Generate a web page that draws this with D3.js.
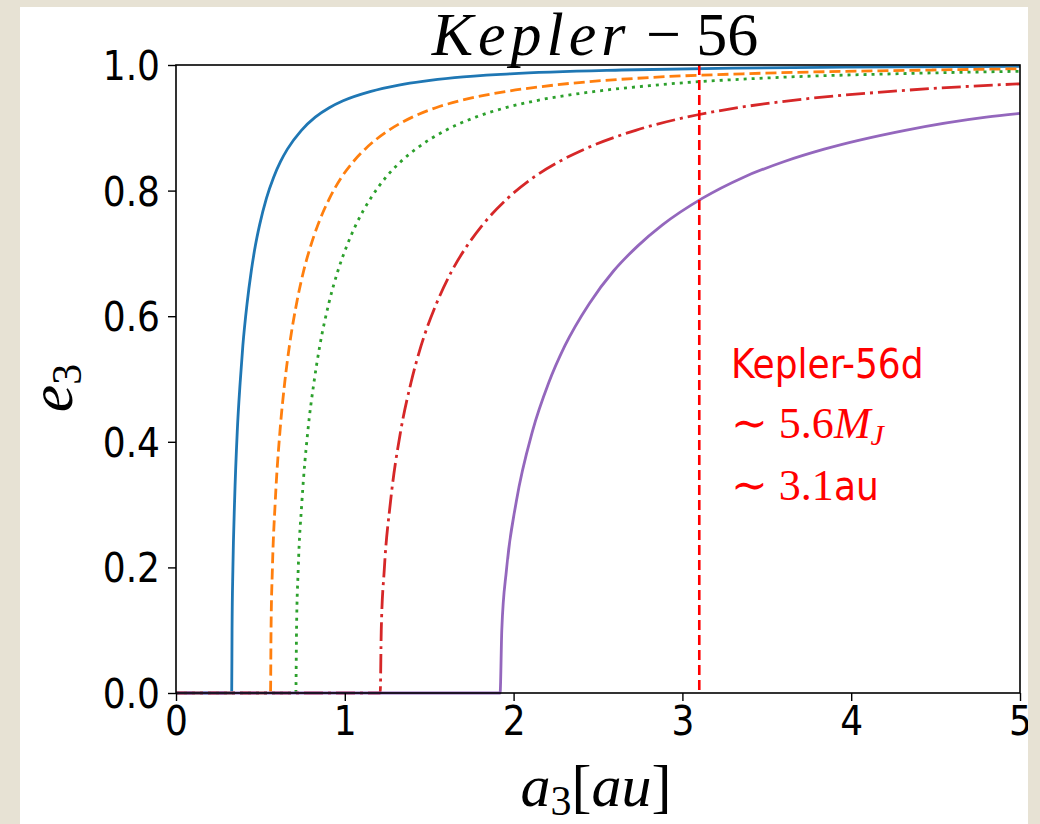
<!DOCTYPE html>
<html>
<head>
<meta charset="utf-8">
<script src="https://cdnjs.cloudflare.com/ajax/libs/d3/7.8.5/d3.min.js"></script>
<style>
  html, body { margin: 0; padding: 0; background: #e7e2d4; }
  svg { display: block; }
</style>
</head>
<body>
<svg id="chart" width="1040" height="824"></svg>
<script>
// Semi-major axis a3 [au] and eccentricity e3 for each curve
const blueA   = [0, 0.33, 0.332, 0.337, 0.347, 0.363, 0.380, 0.396, 0.421, 0.446, 0.470, 0.495, 0.536, 0.578, 0.619, 0.66, 0.743, 0.825, 0.908, 0.99, 1.155, 1.32, 1.65, 1.98, 2.64, 3.3, 3.96, 5.0];
const blueE   = [0, 0,    0.10,  0.197, 0.305, 0.417, 0.494, 0.553, 0.620, 0.672, 0.712, 0.745, 0.788, 0.821, 0.846, 0.866, 0.896, 0.917, 0.932, 0.943, 0.958, 0.968, 0.980, 0.986, 0.992, 0.995, 0.9965, 0.998];
const orangeA = [0, 0.56, 0.563, 0.571, 0.588, 0.616, 0.644, 0.672, 0.714, 0.756, 0.798, 0.84, 0.91, 0.98, 1.05, 1.12, 1.26, 1.4, 1.54, 1.68, 1.96, 2.24, 2.8, 3.36, 4.48, 5.0];
const orangeE = [0, 0,    0.10,  0.197, 0.305, 0.417, 0.494, 0.553, 0.620, 0.672, 0.712, 0.745, 0.788, 0.821, 0.846, 0.866, 0.896, 0.917, 0.932, 0.943, 0.958, 0.968, 0.980, 0.986, 0.992, 0.994];
const greenA  = [0, 0.71, 0.714, 0.724, 0.746, 0.781, 0.817, 0.852, 0.905, 0.959, 1.012, 1.065, 1.154, 1.243, 1.331, 1.42, 1.598, 1.775, 1.953, 2.13, 2.485, 2.84, 3.55, 4.26, 5.0];
const greenE  = [0, 0,    0.10,  0.197, 0.305, 0.417, 0.494, 0.553, 0.620, 0.672, 0.712, 0.745, 0.788, 0.821, 0.846, 0.866, 0.896, 0.917, 0.932, 0.943, 0.958, 0.968, 0.980, 0.986, 0.990];
const redA    = [0, 1.21, 1.216, 1.234, 1.271, 1.331, 1.392, 1.452, 1.543, 1.634, 1.724, 1.815, 1.966, 2.118, 2.269, 2.42, 2.723, 3.025, 3.328, 3.63, 4.235, 4.84, 5.0];
const redE    = [0, 0,    0.10,  0.197, 0.305, 0.417, 0.494, 0.553, 0.620, 0.672, 0.712, 0.745, 0.788, 0.821, 0.846, 0.866, 0.896, 0.917, 0.932, 0.943, 0.958, 0.968, 0.970];
const purpleA = [0, 1.92, 1.93, 1.958, 2.016, 2.112, 2.208, 2.304, 2.448, 2.592, 2.736, 2.88, 3.12, 3.36, 3.6, 3.84, 4.32, 4.8, 5.0];
const purpleE = [0, 0,    0.10, 0.197, 0.305, 0.417, 0.494, 0.553, 0.620, 0.672, 0.712, 0.745, 0.788, 0.821, 0.846, 0.866, 0.896, 0.917, 0.923];

const xTickValues = [0, 1, 2, 3, 4, 5];
const yTickValues = [0.0, 0.2, 0.4, 0.6, 0.8, 1.0];
const yTickLabels = ["0.0", "0.2", "0.4", "0.6", "0.8", "1.0"];
const planetA = 3.1;

const series = [
  { a: blueA,   e: blueE,   color: "#1f77b4", dash: null },
  { a: orangeA, e: orangeE, color: "#ff7f0e", dash: "11,5" },
  { a: greenA,  e: greenE,  color: "#2ca02c", dash: "3,5" },
  { a: redA,    e: redE,    color: "#d62728", dash: "19,5,3,5" },
  { a: purpleA, e: purpleE, color: "#9467bd", dash: null }
];

const svg = d3.select("#chart");

// figure panel
svg.append("rect").attr("x", 20).attr("y", 7).attr("width", 1008).attr("height", 830).attr("fill", "#ffffff");

const x = d3.scaleLinear().domain([0, 5]).range([176, 1020]);
const y = d3.scaleLinear().domain([0, 1]).range([693, 65]);

svg.append("clipPath").attr("id", "plotclip")
  .append("rect").attr("x", 176).attr("y", 63).attr("width", 846).attr("height", 632);

const line = d3.line().x(d => x(d[0])).y(d => y(d[1])).curve(d3.curveMonotoneX);

const curves = svg.append("g").attr("clip-path", "url(#plotclip)");
series.forEach(s => {
  const pts = s.a.map((v, i) => [v, s.e[i]]);
  curves.append("path")
    .attr("d", line(pts))
    .attr("fill", "none")
    .attr("stroke", s.color)
    .attr("stroke-width", 2.8)
    .attr("stroke-dasharray", s.dash);
});

// planet position marker
svg.append("line")
  .attr("x1", x(planetA)).attr("x2", x(planetA))
  .attr("y1", y(1)).attr("y2", y(0))
  .attr("stroke", "#ff0000").attr("stroke-width", 2.6)
  .attr("stroke-dasharray", "10,5");

// axes frame
svg.append("rect")
  .attr("x", x(0)).attr("y", y(1))
  .attr("width", x(5) - x(0)).attr("height", y(0) - y(1))
  .attr("fill", "none").attr("stroke", "#000").attr("stroke-width", 1.6);

const tickFont = "'DejaVu Sans Condensed', 'DejaVu Sans', sans-serif";
const mathFont = "'Liberation Serif', 'DejaVu Serif', serif";

const xAxis = svg.append("g").attr("transform", `translate(0,${y(0)})`)
  .call(d3.axisBottom(x).tickValues(xTickValues).tickSize(8).tickPadding(4).tickFormat(d3.format("d")));
const yAxis = svg.append("g").attr("transform", `translate(${x(0)},0)`)
  .call(d3.axisLeft(y).tickValues(yTickValues).tickSize(8).tickPadding(8).tickFormat((d, i) => yTickLabels[i]));
[xAxis, yAxis].forEach(g => {
  g.select(".domain").remove();
  g.selectAll(".tick line").attr("stroke", "#000").attr("stroke-width", 1.4);
  g.selectAll(".tick text").attr("font-family", tickFont).attr("font-size", 40).attr("fill", "#000");
});
yAxis.selectAll(".tick text").attr("dy", "0.36em");
xAxis.selectAll(".tick text").attr("dy", "0.76em");

// title
const title = svg.append("text")
  .attr("x", 595).attr("y", 55)
  .attr("text-anchor", "middle")
  .attr("font-family", mathFont)
  .attr("font-size", 62).attr("fill", "#000");
title.append("tspan").attr("font-style", "italic").attr("letter-spacing", 5).text("Kepler");
title.append("tspan").text(" \u2212 56");

// y axis label
const ylab = svg.append("text")
  .attr("transform", "translate(72,388) rotate(-90)")
  .attr("text-anchor", "middle")
  .attr("font-family", mathFont)
  .attr("font-size", 62).attr("fill", "#000");
ylab.append("tspan").attr("font-style", "italic").text("e");
ylab.append("tspan").attr("font-size", 42).attr("dy", 9).text("3");

// x axis label
const xlab = svg.append("text")
  .attr("x", 596).attr("y", 806)
  .attr("text-anchor", "middle")
  .attr("font-family", mathFont)
  .attr("font-size", 60).attr("fill", "#000");
xlab.append("tspan").attr("font-style", "italic").text("a");
xlab.append("tspan").attr("font-size", 42).attr("dy", 9).text("3");
xlab.append("tspan").attr("dy", -9).text("[");
xlab.append("tspan").attr("font-style", "italic").text("au");
xlab.append("tspan").text("]");

// planet annotation
const ann = svg.append("g").attr("fill", "#ff0000");
ann.append("text").attr("x", 731).attr("y", 378)
  .attr("font-family", tickFont).attr("font-size", 40).text("Kepler-56d");
const m = ann.append("text").attr("x", 731).attr("y", 438)
  .attr("font-family", mathFont).attr("font-size", 44);
m.append("tspan").text("\u223C 5.6");
m.append("tspan").attr("font-style", "italic").text("M");
m.append("tspan").attr("font-style", "italic").attr("font-size", 30).attr("dy", 7).text("J");
const d = ann.append("text").attr("x", 731).attr("y", 500)
  .attr("font-family", mathFont).attr("font-size", 44);
d.append("tspan").text("\u223C 3.1");
d.append("tspan").attr("font-family", tickFont).attr("font-size", 40).text("au");

// right border strip
svg.append("rect").attr("x", 1028).attr("y", 0).attr("width", 12).attr("height", 824).attr("fill", "#e7e2d4");
</script>
</body>
</html>
